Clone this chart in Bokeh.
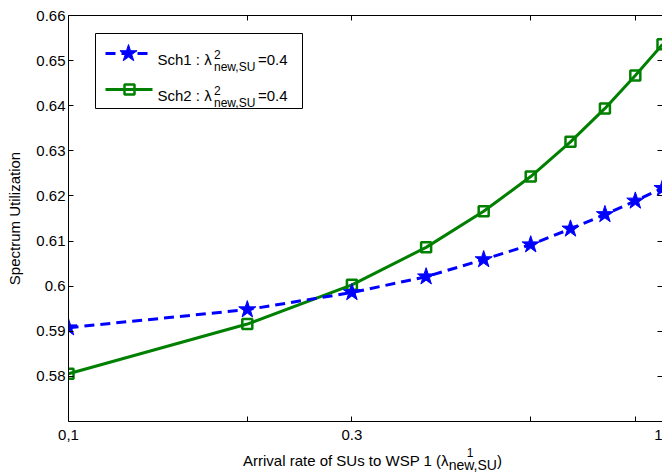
import math
from bokeh.plotting import figure
from bokeh.layouts import column
from bokeh.models import (Range1d, FixedTicker, LogAxis, LinearAxis, Label,
                          CustomLabelingPolicy, Div)
from bokeh.embed import file_html
from bokeh.resources import INLINE

# ---- data ----
x_vals = [0.1, 0.2, 0.3, 0.4, 0.5, 0.6, 0.7, 0.8, 0.9, 1.0]
sch1 = [0.5908, 0.5948, 0.5986, 0.6021, 0.6059, 0.6092, 0.6127, 0.6159, 0.6189, 0.6217]
sch2 = [0.5806, 0.5916, 0.6003, 0.6086, 0.6166, 0.6243, 0.6320, 0.6394, 0.6467, 0.6536]
x_ticks = [0.1, 0.2, 0.3, 0.6, 0.9, 1.0]
x_tick_labels = ["0,1", "", "0.3", "", "", "1"]
y_ticks = [0.58, 0.59, 0.6, 0.61, 0.62, 0.63, 0.64, 0.65, 0.66]
y_tick_labels = ["0.58", "0.59", "0.6", "0.61", "0.62", "0.63", "0.64", "0.65", "0.66"]

FONT = "Liberation Sans"
BLUE = "#0000FF"
GREEN = "#008000"

X0, X1 = 0.1, 1.0
Y0, Y1 = 0.57, 0.66
W, H = 662, 450
ML, MR, MT = 68, 0, 15
FRAME_H = 406
MB = H - MT - FRAME_H

# page-pixel -> data helpers for annotation layout
FL, FR, FT, FB = ML, W - MR, MT, MT + FRAME_H


def px2x(px):
    return 10 ** (math.log10(X0) + (px - FL) / (FR - FL) * (math.log10(X1) - math.log10(X0)))


def py2y(py):
    return Y1 - (py - FT) / (FB - FT) * (Y1 - Y0)


p = figure(width=W, height=H, x_axis_type="log",
           x_range=Range1d(X0, X1), y_range=Range1d(Y0, Y1),
           min_border_left=ML, min_border_right=MR, min_border_top=MT, min_border_bottom=MB,
           output_backend="svg", toolbar_location=None)
p.outline_line_color = None
p.xgrid.visible = False
p.ygrid.visible = False
p.background_fill_color = "white"
p.border_fill_color = "white"

xt = dict(zip(x_ticks, x_tick_labels))
yt = dict(zip(y_ticks, y_tick_labels))

hide_all = CustomLabelingPolicy(code="""
    for (const i of indices) { indices.unset(i) }
    return indices
""")


def style_axis(ax, ticks, labels, show_labels=True, line=True):
    ax.ticker = FixedTicker(ticks=ticks, minor_ticks=[])
    ax.major_label_overrides = labels
    ax.major_tick_in = 5
    ax.major_tick_out = 0
    ax.minor_tick_line_color = None
    ax.major_tick_line_color = "black"
    ax.axis_line_color = "black" if line else None
    ax.major_label_text_font = FONT
    ax.major_label_text_color = "black"
    if show_labels:
        ax.major_label_text_font_size = "15px"
    else:
        ax.major_label_text_font_size = "0px"
        ax.major_label_policy = hide_all
        ax.major_label_standoff = 0


xa = p.xaxis[0]
style_axis(xa, x_ticks, xt)
xa.major_label_standoff = 8

ya = p.yaxis[0]
style_axis(ya, y_ticks, yt)
ya.major_label_standoff = 3
ya.axis_label = "Spectrum Utilization"
ya.axis_label_text_font = FONT
ya.axis_label_text_font_size = "15px"
ya.axis_label_text_font_style = "normal"
ya.axis_label_text_color = "black"
ya.axis_label_standoff = 10

top_ax = LogAxis()
style_axis(top_ax, x_ticks, xt, show_labels=False)
p.add_layout(top_ax, "above")
right_ax = LinearAxis()
style_axis(right_ax, y_ticks, yt, show_labels=False, line=False)
p.add_layout(right_ax, "right")

# ---- data series ----
p.line(x_vals, sch2, line_color=GREEN, line_width=3)
p.scatter(x_vals, sch2, marker="square", size=10, line_color=GREEN, line_width=2.5,
          fill_color=None)
p.line(x_vals, sch1, line_color=BLUE, line_width=3, line_dash="10 6")
p.scatter(x_vals, sch1, marker="star", size=18, line_color=BLUE, fill_color=BLUE)

# ---- legend (manual, to allow super/subscripts) ----
p.quad(left=[px2x(95)], right=[px2x(302)], top=[py2y(33)], bottom=[py2y(108)],
       fill_color="white", line_color="black", line_width=1)
rows = [(53, BLUE, "10 6", "star", "Sch1 : λ"), (89, GREEN, "solid", "square", "Sch2 : λ")]
for ry, col, dash, mk, txt in rows:
    p.line([px2x(105), px2x(152)], [py2y(ry), py2y(ry)], line_color=col, line_width=3,
           line_dash=dash)
    if mk == "star":
        p.scatter([px2x(128)], [py2y(ry)], marker="star", size=18, line_color=col,
                  fill_color=col)
    else:
        p.scatter([px2x(129)], [py2y(ry)], marker="square", size=10, line_color=col,
                  line_width=2.5, fill_color=None)
    base = ry + 6
    for tx, ty, t, fs in [(157, base, txt, "15px"), (213.5, base - 5, "2", "12px"),
                          (213.5, base + 7, "new,SU", "12px"), (257.5, base, "=0.4", "15px")]:
        p.add_layout(Label(x=px2x(tx), y=py2y(ty), text=t, text_font=FONT,
                           text_font_size=fs, text_color="black",
                           text_align="left", text_baseline="alphabetic"))

# ---- x axis label (HTML, with super/subscripts) ----
xlabel_html = (
    "<div style=\"font-family:'Liberation Sans',Arial,sans-serif; font-size:15px; "
    "line-height:18px; padding-left:243px; padding-top:2px; white-space:nowrap; color:#000;\">"
    "Arrival rate of SUs to WSP 1 (λ"
    "<span style=\"position:relative; top:-9px; left:18px; font-size:12px; "
    "margin-right:-6.7px;\">1</span>"
    "<span style=\"position:relative; top:4px; font-size:14px;\">new,SU</span>"
    ")</div>"
)
xlabel = Div(text=xlabel_html, width=W, height=475 - H, margin=0)

layout = column(p, xlabel, spacing=0)
open("out.html", "w").write(file_html(layout, INLINE))
